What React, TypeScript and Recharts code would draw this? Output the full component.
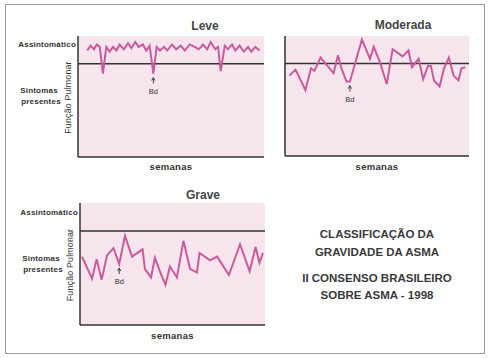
import { CartesianGrid, Line, LineChart, ReferenceLine, XAxis, YAxis } from "recharts";

// "semanas" position (0-100 across the plot) and lung function (0-100 up the plot)
const leveWeeks = [5, 6.8, 8.6, 10.1, 11.7, 13.4, 15.2, 17, 18.8, 20.6, 22.4, 24.7, 26.9, 28.7, 30.8, 32.6, 34.9, 36.7, 38.5, 40.5, 42.3, 44.1, 46.2, 48, 50.5, 52.8, 55.2, 57.4, 60.1, 62.7, 64.9, 67.2, 69.5, 71.3, 73.8, 75.3, 76.7, 78.9, 80.6, 82.8, 84.6, 86.9, 89.2, 91.4, 93.2, 95.3, 97.7];
const leveFunc = [88, 92, 89, 93, 91, 69, 91, 87, 91, 88, 93, 89, 94, 90, 95, 91, 93, 88, 92, 69, 91, 88, 91, 88, 93, 89, 92, 88, 93, 91, 89, 93, 89, 95, 89, 91, 71, 92, 89, 93, 88, 92, 87, 91, 87, 91, 88];

const moderadaWeeks = [2.4, 5.7, 11.1, 14.1, 16, 19.3, 21.5, 26.4, 28.8, 30.7, 33.4, 35.3, 41.8, 46.2, 48.2, 51.4, 55.3, 58.5, 63.9, 67.1, 69, 72.6, 75.1, 77.7, 79.3, 81, 84, 86.4, 89.1, 91.6, 94.3, 95.9, 98];
const moderadaFunc = [67, 72, 55, 73, 71, 82, 78, 69, 84, 73, 62, 62, 97, 81, 91, 79, 60, 89, 83, 88, 74, 81, 64, 75, 75, 63, 58, 73, 82, 67, 63, 73, 74];

const graveWeeks = [1.1, 6.5, 9, 11.7, 14.6, 18.1, 21.2, 24.3, 28.1, 33.8, 35.1, 38.4, 40.5, 43.2, 46.2, 48.6, 52.4, 55.9, 59.5, 63.2, 64.6, 70.3, 74.1, 80.5, 86.5, 91.7, 94.9, 97, 98.9];
const graveFunc = [56, 38, 54, 37, 57, 63, 50, 73, 56, 62, 46, 39, 55, 44, 33, 48, 39, 69, 46, 43, 59, 53, 56, 41, 66, 44, 64, 51, 59];

// index of the bronchodilator ("Bd") point in each series
const leveBd = 19;
const moderadaBd = 11;
const graveBd = 6;

const assintomaticoLevel = 77;
const yTickValues = [93, 51];
const yTickLabels = ["Assintomático", "Sintomas presentes"];

const font = "'Liberation Sans', Arial, sans-serif";
const pink = "#c95a9c";
const dark = "#333";

const toData = (weeks: number[], values: number[]) =>
  weeks.map((w, i) => ({ semana: w, funcao: values[i] }));

const YTick = (props: any) => {
  const { x, y, payload } = props;
  if (payload.value === yTickValues[0]) {
    return (
      <text x={x} y={y} dy={3} textAnchor="end" fontSize={8} fontWeight="bold" fill={dark} letterSpacing={0.2}>
        {yTickLabels[0]}
      </text>
    );
  }
  const [a, b] = yTickLabels[1].split(" ");
  return (
    <text x={x - 35} y={y} textAnchor="middle" fontSize={8} fontWeight="bold" fill={dark} letterSpacing={0.2}>
      <tspan x={x - 37} dy={-2}>{a}</tspan>
      <tspan x={x - 35} dy={11}>{b}</tspan>
    </text>
  );
};

const FuncaoLabel = (props: any) => {
  const vb = props.viewBox || { x: 0, y: 0, width: 70, height: 120 };
  const x = vb.x + vb.width - 7;
  const y = vb.y + vb.height / 2 + 1;
  return (
    <text x={x} y={y} transform={`rotate(-90, ${x}, ${y})`} textAnchor="middle" fontSize={8.8} fill={dark} letterSpacing={0.2}>
      Função Pulmonar
    </text>
  );
};

const makeDot = (bdIndex: number) => (p: any) => {
  if (p.index !== bdIndex) return <g key={p.index} />;
  const { cx, cy } = p;
  return (
    <g key={p.index}>
      <line x1={cx} y1={cy + 4.5} x2={cx} y2={cy + 10} stroke={dark} strokeWidth={0.9} />
      <path d={`M${cx - 1.6},${cy + 7} L${cx},${cy + 4} L${cx + 1.6},${cy + 7}`} fill="none" stroke={dark} strokeWidth={0.9} />
      <text x={cx} y={cy + 20} textAnchor="middle" fontSize={7.5} fill={dark}>Bd</text>
    </g>
  );
};

type PanelProps = {
  weeks: number[];
  values: number[];
  bd: number;
  left: number;
  top: number;
  width: number;
  height: number;
  yWidth: number;
  xHeight: number;
  withLabels: boolean;
};

const Panel = ({ weeks, values, bd, left, top, width, height, yWidth, xHeight, withLabels }: PanelProps) => (
  <div style={{ position: "absolute", left, top }}>
    <LineChart width={width} height={height} data={toData(weeks, values)} margin={{ top: 21, right: 6, left: 0, bottom: 0 }}>
      <CartesianGrid horizontal={false} vertical={false} fill="#f7e5ee" stroke="none" />
      <XAxis
        dataKey="semana"
        type="number"
        domain={[0, 100]}
        height={xHeight}
        tick={false}
        tickLine={false}
        axisLine={{ stroke: dark, strokeWidth: 1.5 }}
        label={{ value: "semanas", position: "center", fontSize: 9.5, fontWeight: "bold", fill: dark, letterSpacing: 0.3 }}
      />
      <YAxis
        type="number"
        domain={[0, 100]}
        width={yWidth}
        ticks={withLabels ? yTickValues : []}
        tick={withLabels ? <YTick /> : false}
        tickLine={false}
        tickSize={0}
        tickMargin={2}
        axisLine={{ stroke: dark, strokeWidth: 1.5 }}
        label={withLabels ? { content: FuncaoLabel } : undefined}
      />
      <ReferenceLine y={assintomaticoLevel} stroke={dark} strokeWidth={1.5} />
      <Line
        type="linear"
        dataKey="funcao"
        stroke={pink}
        strokeWidth={2}
        dot={makeDot(bd)}
        activeDot={false}
        isAnimationActive={false}
      />
    </LineChart>
  </div>
);

const title = (text: string, cx: number, cy: number) => (
  <div
    style={{
      position: "absolute",
      left: cx - 50,
      top: cy - 8,
      width: 100,
      textAlign: "center",
      fontSize: 12,
      lineHeight: "16px",
      fontWeight: "bold",
      color: "#444",
    }}
  >
    {text}
  </div>
);

const textLine = (text: string, cy: number) => (
  <div
    style={{
      position: "absolute",
      left: 277,
      top: cy - 8,
      width: 200,
      textAlign: "center",
      fontSize: 11.5,
      lineHeight: "16px",
      fontWeight: "bold",
      color: "#3a3a3a",
    }}
  >
    {text}
  </div>
);

export default function App() {
  return (
    <div style={{ position: "absolute", left: 0, top: 0, width: 491, height: 358, background: "#fff", fontFamily: font, overflow: "hidden" }}>
      <div style={{ position: "absolute", left: 5, top: 4, width: 478, height: 348, border: "1.5px solid #9a9a9a" }} />
      {title("Leve", 205, 26)}
      {title("Moderada", 403, 25)}
      {title("Grave", 203, 195)}
      <Panel weeks={leveWeeks} values={leveFunc} bd={leveBd} left={8} top={15} width={262} height={162} yWidth={70} xHeight={20} withLabels />
      <Panel weeks={moderadaWeeks} values={moderadaFunc} bd={moderadaBd} left={280} top={15} width={195} height={163} yWidth={5} xHeight={22} withLabels={false} />
      <Panel weeks={graveWeeks} values={graveFunc} bd={graveBd} left={10} top={182} width={261} height={165} yWidth={70} xHeight={22} withLabels />
      {textLine("CLASSIFICAÇÃO DA", 234)}
      {textLine("GRAVIDADE DA ASMA", 252)}
      {textLine("II CONSENSO BRASILEIRO", 278)}
      {textLine("SOBRE ASMA - 1998", 295)}
    </div>
  );
}
